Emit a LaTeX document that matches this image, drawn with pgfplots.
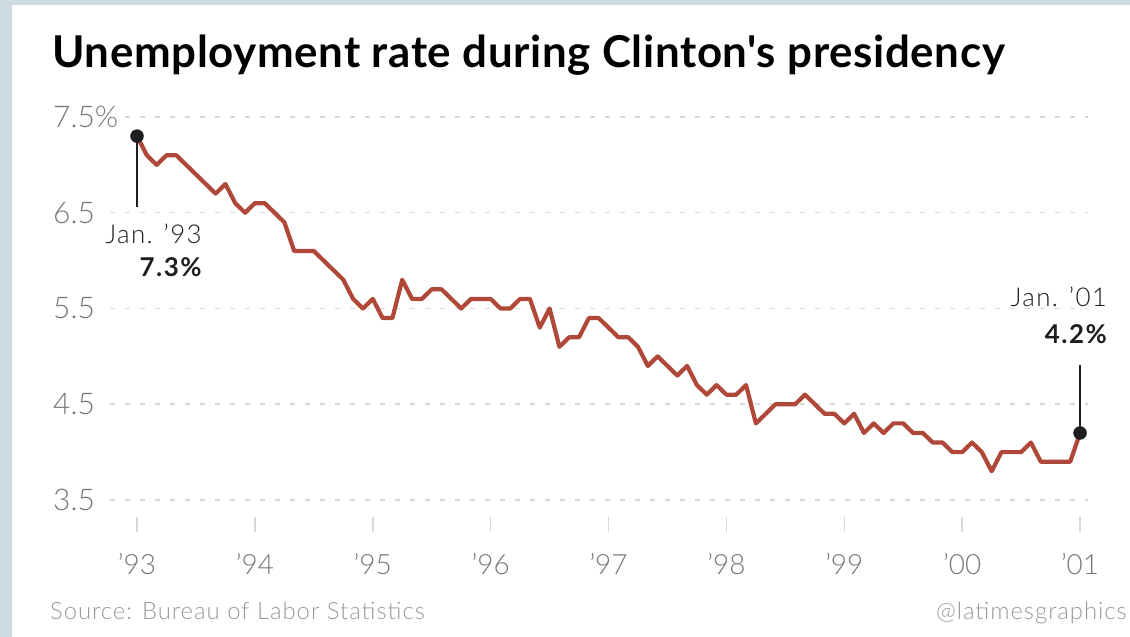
\documentclass[border=0pt]{standalone}
\usepackage{fontspec}
\usepackage{pgfplots}
\pgfplotsset{compat=1.18}
\usepackage{pgfplotstable}
\setmainfont{Lato}
\newfontfamily\lightfont{Lato Light}
\newfontfamily\lightwide[LetterSpace=5]{Lato Light}
\newfontfamily\srcfont[LetterSpace=4]{Lato Light}
\newfontfamily\boldwide[LetterSpace=6]{Lato Bold}
\newfontfamily\titlefont[LetterSpace=1.5]{Lato Bold}
\definecolor{bgblue}{HTML}{CDDBE3}
\definecolor{linered}{HTML}{B0483A}
\definecolor{ticklab}{HTML}{777777}
\definecolor{gridc}{HTML}{D8D8D8}
\definecolor{srcc}{HTML}{999999}
\definecolor{annot}{HTML}{1E1E1E}

\pgfplotstableread{
m r
0 7.3
1 7.1
2 7.0
3 7.1
4 7.1
5 7.0
6 6.9
7 6.8
8 6.7
9 6.8
10 6.6
11 6.5
12 6.6
13 6.6
14 6.5
15 6.4
16 6.1
17 6.1
18 6.1
19 6.0
20 5.9
21 5.8
22 5.6
23 5.5
24 5.6
25 5.4
26 5.4
27 5.8
28 5.6
29 5.6
30 5.7
31 5.7
32 5.6
33 5.5
34 5.6
35 5.6
36 5.6
37 5.5
38 5.5
39 5.6
40 5.6
41 5.3
42 5.5
43 5.1
44 5.2
45 5.2
46 5.4
47 5.4
48 5.3
49 5.2
50 5.2
51 5.1
52 4.9
53 5.0
54 4.9
55 4.8
56 4.9
57 4.7
58 4.6
59 4.7
60 4.6
61 4.6
62 4.7
63 4.3
64 4.4
65 4.5
66 4.5
67 4.5
68 4.6
69 4.5
70 4.4
71 4.4
72 4.3
73 4.4
74 4.2
75 4.3
76 4.2
77 4.3
78 4.3
79 4.2
80 4.2
81 4.1
82 4.1
83 4.0
84 4.0
85 4.1
86 4.0
87 3.8
88 4.0
89 4.0
90 4.0
91 4.1
92 3.9
93 3.9
94 3.9
95 3.9
96 4.2
}\unemp

\begin{document}
\begin{tikzpicture}[x=1bp,y=1bp]
\fill[bgblue] (0,0) rectangle (1130,637);
\fill[white] (12,0) rectangle (1130,632);
\node[anchor=base west, inner sep=0] at (52,569)
  {\titlefont\fontsize{44}{44}\selectfont Unemployment rate during Clinton\textquotesingle s presidency};
\node[anchor=base west, inner sep=0, text=srcc] at (50,17)
  {\srcfont\fontsize{24}{24}\selectfont Source: Bureau of Labor Statistics};
\node[anchor=base east, inner sep=0, text=srcc] at (1127,17)
  {\srcfont\fontsize{24}{24}\selectfont @latimesgraphics};
\begin{axis}[
  at={(110bp,120bp)}, anchor=south west,
  scale only axis, width=978bp, height=400bp,
  xmin=-2.75, xmax=96.81,
  ymin=3.3225, ymax=7.5,
  clip=false,
  axis line style={draw=none},
  xtick={0,12,...,96},
  xticklabels={’93,’94,’95,’96,’97,’98,’99,’00,’01},
  ytick={3.5,4.5,5.5,6.5,7.5},
  yticklabels={3.5,4.5,5.5,6.5,{7.5\%\hspace{16bp}}},
  ymajorgrids,
  grid style={gridc, line width=1.5bp, dash pattern=on 5bp off 10bp},
  ytick style={draw=none},
  xtick style={draw=gridc, line width=1.5bp},
  tick align=outside,
  xtick pos=bottom,
  major tick length=15bp,
  ticklabel style={text=ticklab},
  yticklabel style={anchor=west, xshift=-42bp, inner xsep=0pt, fill=white,
    font=\lightfont\fontsize{30}{30}\selectfont},
  xticklabel style={anchor=north, yshift=-18bp,
    font=\lightfont\fontsize{28}{28}\selectfont},
]
\addplot[linered, line width=4.2bp, line join=round] table[x=m,y=r]{\unemp};
\draw[annot, line width=1.8bp] (axis cs:0,7.3) -- (axis cs:0,6.56);
\draw[annot, line width=1.8bp] (axis cs:96,4.2) -- (axis cs:96,4.91);
\addplot[only marks, mark=*, mark size=6.5bp, annot] coordinates {(0,7.3) (96,4.2)};
\node[anchor=north east, inner sep=0, text=annot] at (axis cs:6.6,6.38)
  {\lightwide\fontsize{26}{26}\selectfont Jan. ’93};
\node[anchor=north east, inner sep=0, text=annot] at (axis cs:6.6,6.03)
  {\boldwide\fontsize{26}{26}\selectfont 7.3\%};
\node[anchor=north east, inner sep=0, text=annot] at (axis cs:98.75,5.73)
  {\lightwide\fontsize{26}{26}\selectfont Jan. ’01};
\node[anchor=north east, inner sep=0, text=annot] at (axis cs:98.75,5.33)
  {\boldwide\fontsize{26}{26}\selectfont 4.2\%};
\end{axis}
\end{tikzpicture}
\end{document}
